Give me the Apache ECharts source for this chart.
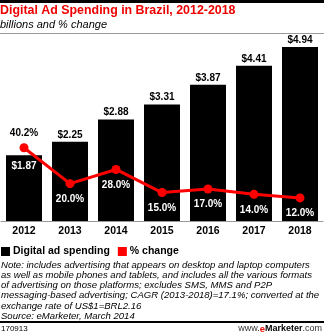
<!DOCTYPE html>
<html><head><meta charset="utf-8">
<script src="https://cdn.jsdelivr.net/npm/echarts@6/dist/echarts.min.js"></script>
<style>html,body{margin:0;padding:0;background:#fff}#c{width:324px;height:336px}</style>
</head><body><div id="c"></div>
<script>
const years = ['2012','2013','2014','2015','2016','2017','2018'];
const spending = [1.87, 2.25, 2.88, 3.31, 3.87, 4.41, 4.94];
const pctChange = [40.2, 20.0, 28.0, 15.0, 17.0, 14.0, 12.0];
const titleText = 'Digital Ad Spending in Brazil, 2012-2018';
const subtitleText = 'billions and % change';
const noteLines = [
  'Note: includes advertising that appears on desktop and laptop computers',
  'as well as mobile phones and tablets, and includes all the various formats',
  'of advertising on those platforms; excludes SMS, MMS and P2P',
  'messaging-based advertising; CAGR (2013-2018)=17.1%; converted at the',
  'exchange rate of US$1=BRL2.16',
  'Source: eMarketer, March 2014'
];
const chartId = '170913';

const F = '"Liberation Sans", Arial, sans-serif';
const chart = echarts.init(document.getElementById('c'));

const barData = spending.map((v, i) => i === 0
  ? {value: v, label: {position: 'insideTop', distance: 6, color: '#fff'}}
  : v);
const lineData = pctChange.map((v, i) => i === 0
  ? {value: v, label: {position: 'top', distance: 5, color: '#000'}}
  : v);

chart.setOption({
  animation: false,
  textStyle: {fontFamily: F},
  grid: {left: 1, right: 1, top: 45, bottom: 115},
  xAxis: {
    type: 'category', data: years,
    axisLine: {show: true, lineStyle: {color: '#999', width: 1}},
    axisTick: {show: false},
    axisLabel: {color: '#000', fontWeight: 'bold', fontSize: 10.5, fontFamily: F, margin: 5}
  },
  yAxis: [
    {type: 'value', min: 0, max: 5, show: false, splitLine: {show: false}},
    {type: 'value', min: -1, max: 98, show: false, splitLine: {show: false}}
  ],
  legend: {
    left: -4, top: 241, itemWidth: 9, itemHeight: 9, itemGap: 8,
    icon: 'rect',
    textStyle: {fontWeight: 'bold', fontSize: 10.5, color: '#000', fontFamily: F, padding: [0,0,0,-2]},
    data: ['Digital ad spending', '% change']
  },
  series: [
    {
      name: 'Digital ad spending', type: 'bar', data: barData, barWidth: 36,
      itemStyle: {color: '#000'},
      label: {show: true, position: 'top', distance: 2, color: '#000', fontWeight: 'bold', fontSize: 10, fontFamily: F,
        formatter: p => '$' + p.value.toFixed(2)}
    },
    {
      name: '% change', type: 'line', yAxisIndex: 1, data: lineData,
      itemStyle: {color: '#f00'}, lineStyle: {color: '#f00', width: 3},
      symbol: 'circle', symbolSize: 9,
      label: {show: true, position: 'bottom', distance: 6, color: '#fff', fontWeight: 'bold', fontSize: 10, fontFamily: F,
        formatter: p => p.value.toFixed(1) + '%'}
    }
  ],
  graphic: [
    {type: 'rect', shape: {x: 0, y: 0, width: 324, height: 3}, style: {fill: '#000'}},
    {type: 'text', left: 0, top: 5, style: {text: titleText, fill: '#e00', font: 'bold 12.4px ' + F}},
    {type: 'text', left: 0, top: 19, style: {text: subtitleText, fill: '#000', font: 'italic 11px ' + F}},
    {type: 'rect', shape: {x: 0, y: 33, width: 324, height: 1}, style: {fill: '#999'}},
    {type: 'text', left: 1, top: 260, style: {text: noteLines.join('\n'), fill: '#000', font: 'italic 9.55px ' + F, lineHeight: 10.2}},
    {type: 'rect', shape: {x: 0, y: 321, width: 324, height: 2}, style: {fill: '#000'}},
    {type: 'text', left: 1, top: 325, style: {text: chartId, fill: '#000', font: '8px ' + F}},
    {type: 'text', right: 2, top: 324, style: {
      text: '{a|www.}{e|e}{m|Marketer}{a|.com}',
      rich: {
        a: {fill: '#333', font: '9px ' + F},
        e: {fill: '#e00', font: 'bold 9.5px ' + F},
        m: {fill: '#000', font: 'bold 9px ' + F}
      }}}
  ]
});
</script></body></html>
